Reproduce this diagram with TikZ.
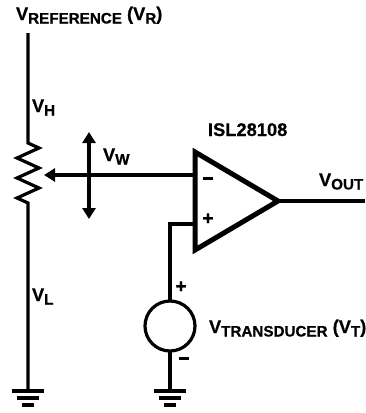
\documentclass[tikz,border=0pt]{standalone}
\usepackage{fontspec}
\setmainfont{Liberation Sans}[BoldFont={Liberation Sans Bold},BoldFeatures={FakeBold=0.6}]
\usetikzlibrary{arrows.meta}
\newcommand{\lsub}[1]{\raisebox{-3.5pt}{\fontsize{15.2}{16}\selectfont\bfseries #1}}
\tikzset{
  wire/.style={line width=3.2pt,line cap=butt,line join=miter,black},
  arrowwire/.style={wire,-{Triangle[length=11pt,width=13pt]}},
  lab/.style={inner sep=0pt,outer sep=0pt,anchor=base west,font=\fontsize{18.3}{19}\selectfont\bfseries,text=black},
  sign/.style={inner sep=0pt,outer sep=0pt,font=\fontsize{19}{19}\selectfont\bfseries,text=black},
  source/.style={circle,draw=black,line width=3.2pt,minimum size=50pt,inner sep=0pt,outer sep=0pt}
}
\begin{document}
\begin{tikzpicture}[x=1pt,y=-1pt]
\useasboundingbox (0,0) rectangle (365,413);
% coordinates
\coordinate (top) at (28,33);
\coordinate (ztop) at (28,143);
\coordinate (zbot) at (28,203);
\coordinate (g1) at (28,391);
\coordinate (g2) at (170,391);
\coordinate (ninv) at (195,175);
\coordinate (pinv) at (195,224);
\coordinate (pcorner) at (170,224);
\coordinate (wipe) at (44,175);
\coordinate (aup) at (89,132);
\coordinate (adn) at (89,219);
\coordinate (tip) at (278,201);
\coordinate (out) at (365,201);
\node[source] (src) at (170,326) {};
% left wire and resistor
\draw[wire] (top) -- (ztop) -- (39,148) -- (17,158) -- (39,168) -- (17,178) -- (39,188) -- (17,198) -- (zbot) -- (g1);
% grounds
\foreach \g in {g1,g2}{
  \draw[wire] ([xshift=-16pt]\g) -- ([xshift=16pt]\g);
  \draw[wire] ([xshift=-11pt,yshift=-7pt]\g) -- ([xshift=11pt,yshift=-7pt]\g);
  \draw[wire] ([xshift=-6pt,yshift=-14pt]\g) -- ([xshift=6pt,yshift=-14pt]\g);
}
% op amp
\draw[line width=5pt,line join=miter,black] (195,152) -- (tip) -- (195,250) -- cycle;
\draw[wire] (tip) -- (out);
\draw[arrowwire] (ninv) -- (wipe);
\draw[wire,{Triangle[length=11pt,width=13pt]}-{Triangle[length=11pt,width=13pt]}] (aup) -- (adn);
\draw[wire] (pinv) -- (pcorner) -- (src.north);
\draw[wire] (src.south) -- (g2);
% labels
\node[lab] (vref) at (16,20) {V\lsub{REFERENCE} (V\lsub{R})};
\node[lab] (vh) at (32,112) {V\lsub{H}};
\node[lab] (vw) at (103,161) {V\lsub{W}};
\node[lab] (isl) at (208,136) {ISL28108};
\node[lab] (vout) at (319,186) {V\lsub{OUT}};
\node[lab] (vl) at (32,301) {V\lsub{L}};
\node[lab] (vt) at (209,333) {V\lsub{TRANSDUCER} (V\lsub{T})};
\node[sign] (m1) at (208,178) {\rule{10pt}{3pt}};
\node[sign] (p1) at (208,219) {+};
\node[sign] (p2) at (181,287) {+};
\node[sign] (m2) at (184,358) {\rule{10pt}{3pt}};
\end{tikzpicture}
\end{document}
